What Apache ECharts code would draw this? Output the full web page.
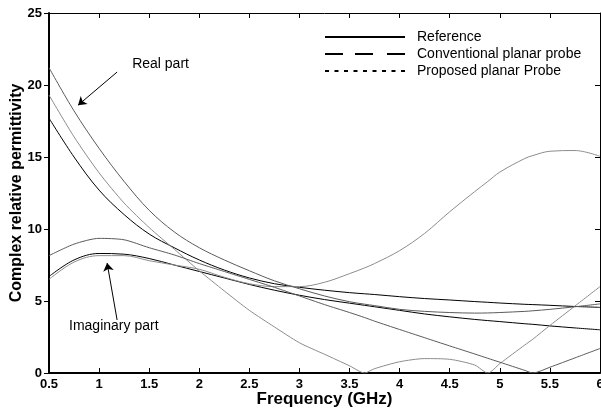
<!DOCTYPE html>
<html>
<head>
<meta charset="utf-8">
<script src="https://cdn.jsdelivr.net/npm/echarts/dist/echarts.min.js"></script>
<style>
  html, body { margin: 0; padding: 0; background: #fff; }
  #chart { width: 601px; height: 410px; }
</style>
</head>
<body>
<div id="chart"></div>
<script>
  // frequency points (GHz)
  var freq = [0.5, 0.75, 1, 1.25, 1.5, 1.75, 2, 2.25, 2.5, 2.75, 3, 3.25, 3.5, 3.65, 3.75, 4, 4.25, 4.5, 4.75, 4.88, 5, 5.25, 5.33, 5.5, 5.75, 6];

  // reference (black)
  var refReal = [17.7, 15.0, 12.7, 11.0, 9.65, 8.7, 7.85, 7.15, 6.6, 6.2, 5.95, 5.75, 5.58, 5.5, 5.45, 5.3, 5.17, 5.07, 4.96, 4.91, 4.86, 4.77, 4.75, 4.7, 4.62, 4.56];
  var refImag = [6.7, 7.85, 8.3, 8.25, 7.95, 7.5, 7.05, 6.6, 6.15, 5.75, 5.4, 5.1, 4.85, 4.7, 4.6, 4.35, 4.1, 3.9, 3.72, 3.64, 3.57, 3.42, 3.38, 3.27, 3.13, 3.0];

  // conventional planar probe (light gray)
  var convReal = [19.3, 16.4, 13.9, 11.8, 10.1, 8.6, 7.1, 5.7, 4.35, 3.2, 2.1, 1.3, 0.5, 0, 0.3, 0.78, 1.0, 0.95, 0.55, 0, 0.65, 1.95, 2.35, 3.3, 4.65, 6.0];
  var convImag = [6.5, 7.7, 8.15, 8.15, 7.8, 7.5, 7.2, 6.65, 6.2, 6.0, 6.0, 6.3, 6.9, 7.3, 7.6, 8.5, 9.7, 11.2, 12.6, 13.3, 13.95, 14.9, 15.1, 15.4, 15.45, 15.05];

  // proposed planar probe (dark gray)
  var propReal = [21.2, 18.2, 15.6, 13.3, 11.3, 9.8, 8.7, 7.85, 7.1, 6.4, 5.85, 5.35, 4.95, 4.78, 4.68, 4.42, 4.28, 4.2, 4.16, 4.17, 4.2, 4.28, 4.32, 4.42, 4.6, 4.8];
  var propImag = [8.15, 8.95, 9.35, 9.25, 8.7, 8.2, 7.6, 7.05, 6.5, 5.95, 5.35, 4.75, 4.2, 3.85, 3.6, 3.02, 2.45, 1.88, 1.32, 1.02, 0.75, 0.18, 0, 0.4, 1.05, 1.7];

  var FONT = '"Liberation Sans", Arial, sans-serif';

  function pairs(ys) {
    return freq.map(function (f, i) { return [f, ys[i]]; });
  }

  function line(name, ys, color, smooth) {
    return {
      name: name,
      type: 'line',
      data: pairs(ys),
      smooth: smooth,
      showSymbol: false,
      lineStyle: { color: color, width: 1 },
      itemStyle: { color: color }
    };
  }

  var chart = echarts.init(document.getElementById('chart'), null, { renderer: 'canvas' });

  var refRealSeries = line('Reference', refReal, '#000', 0.35);
  // arrows for the two labels
  refRealSeries.markLine = {
    silent: true,
    animation: false,
    symbol: ['none', 'arrow'],
    symbolSize: 8,
    label: { show: false },
    lineStyle: { color: '#000', width: 1, type: 'solid' },
    data: [
      [{ coord: [1.18, 20.9] }, { coord: [0.79, 18.6] }],
      [{ coord: [1.18, 3.68] }, { coord: [1.08, 7.64] }]
    ]
  };

  var legendItem = { color: '#000', borderWidth: 0, opacity: 1 };

  var option = {
    animation: false,
    grid: { left: 49, right: 1, top: 13, bottom: 37, outerBoundsMode: 'none', containLabel: false },
    legend: {
      orient: 'vertical',
      left: 320,
      top: 24,
      itemWidth: 80,
      itemHeight: 2,
      itemGap: 1,
      itemStyle: legendItem,
      textStyle: { fontFamily: FONT, fontSize: 14, lineHeight: 16, color: '#000', padding: [0, 0, 0, 7] },
      data: [
        { name: 'Reference', icon: 'path://M0,0H80V2H0Z', itemStyle: legendItem },
        { name: 'Conventional planar probe', icon: 'path://M0,0H18V2H0ZM30,0H48V2H30ZM62,0H80V2H62Z', itemStyle: legendItem },
        { name: 'Proposed planar Probe', icon: 'path://M0,0H4V2H0ZM9.5,0H13.5V2H9.5ZM19,0H23V2H19ZM28.5,0H32.5V2H28.5ZM38,0H42V2H38ZM47.5,0H51.5V2H47.5ZM57,0H61V2H57ZM66.5,0H70.5V2H66.5ZM76,0H80V2H76Z', itemStyle: legendItem }
      ]
    },
    xAxis: [
      {
        type: 'value', min: 0.5, max: 6, interval: 0.5, position: 'bottom',
        name: 'Frequency (GHz)', nameLocation: 'middle', nameGap: 18, nameMoveOverlap: false,
        nameTextStyle: { fontFamily: FONT, fontSize: 17, fontWeight: 'bold', color: '#000' },
        axisLine: { onZero: false, lineStyle: { color: '#000', width: 2 } },
        axisTick: { show: true, inside: true, length: 5, lineStyle: { color: '#000' } },
        axisLabel: { margin: 5, fontFamily: FONT, fontSize: 13, fontWeight: 'bold', color: '#000' },
        splitLine: { show: false }
      },
      {
        type: 'value', min: 0.5, max: 6, interval: 0.5, position: 'top',
        axisLine: { show: true, onZero: false, lineStyle: { color: '#000', width: 1 } },
        axisTick: { show: true, inside: true, length: 5, lineStyle: { color: '#000' } },
        axisLabel: { show: false },
        splitLine: { show: false }
      }
    ],
    yAxis: [
      {
        type: 'value', min: 0, max: 25, interval: 5, position: 'left',
        name: 'Complex relative permittivity', nameLocation: 'middle', nameGap: 24, nameMoveOverlap: false,
        nameTextStyle: { fontFamily: FONT, fontSize: 16, fontWeight: 'bold', color: '#000' },
        axisLine: { onZero: false, lineStyle: { color: '#000', width: 2 } },
        axisTick: { show: true, inside: false, length: 5, lineStyle: { color: '#000' } },
        axisLabel: { margin: 7, fontFamily: FONT, fontSize: 13, fontWeight: 'bold', color: '#000' },
        splitLine: { show: false }
      },
      {
        type: 'value', min: 0, max: 25, interval: 5, position: 'right',
        axisLine: { show: true, onZero: false, lineStyle: { color: '#000', width: 1 } },
        axisTick: { show: true, inside: true, length: 5, lineStyle: { color: '#000' } },
        axisLabel: { show: false },
        splitLine: { show: false }
      }
    ],
    series: [
      refRealSeries,
      line('Reference', refImag, '#000', 0.35),
      line('Conventional planar probe', convReal, '#8c8c8c', 0.25),
      line('Conventional planar probe', convImag, '#8c8c8c', 0.35),
      line('Proposed planar Probe', propReal, '#5a5a5a', 0.35),
      line('Proposed planar Probe', propImag, '#5a5a5a', 0.25)
    ]
  };

  chart.setOption(option);

  // text annotations placed in data space
  var notes = [
    { text: 'Real part', at: [1.33, 21.42] },
    { text: 'Imaginary part', at: [0.7, 3.23] }
  ];
  chart.setOption({
    graphic: notes.map(function (n) {
      var p = chart.convertToPixel({ xAxisIndex: 0, yAxisIndex: 0 }, n.at);
      return {
        type: 'text', x: p[0], y: p[1], silent: true,
        style: { text: n.text, font: '14px ' + FONT, fill: '#000', textAlign: 'left', textVerticalAlign: 'middle' }
      };
    })
  });
</script>
</body>
</html>
